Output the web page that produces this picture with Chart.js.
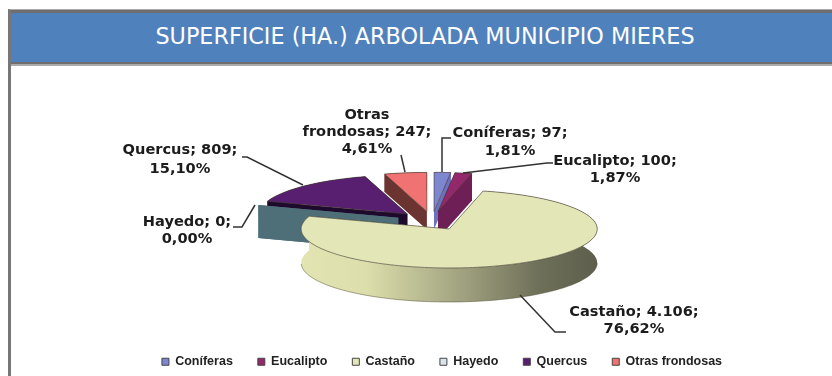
<!DOCTYPE html>
<html>
<head>
<meta charset="utf-8">
<title>Superficie arbolada Mieres</title>
<script src="https://cdn.jsdelivr.net/npm/chart.js@4/dist/chart.umd.min.js"></script>
<style>
    html, body { margin: 0; padding: 0; background: #fff; overflow: hidden; }
    #panel { position: absolute; left: 8px; top: 9px; width: 824px; height: 367px; box-sizing: border-box;
             border-left: 3px solid #777; border-top: 1px solid #aaa; }
    #header { height: 54px; box-sizing: border-box; background: #4f81bd; border-top: 3px solid #6e6e6e;
              border-bottom: 2px solid #6e6e6e; box-shadow: 0 2px 0 #aaa;
              color: #fff; font: 22.3px "DejaVu Sans", sans-serif; line-height: 47px; text-align: center; padding-left: 7px; }
    #wrap { position: absolute; left: 0; top: 0; width: 832px; height: 376px; filter: blur(0.35px); }
</style>
</head>
<body>
<div id="panel"><div id="header">SUPERFICIE (HA.) ARBOLADA MUNICIPIO MIERES</div></div>
<div id="wrap"><canvas id="pieChart" width="832" height="376"></canvas></div>
<script>
const categories = ['Coníferas', 'Eucalipto', 'Castaño', 'Hayedo', 'Quercus', 'Otras frondosas'];
const hectares = [97, 100, 4106, 0, 809, 247];

const topColors = ['#7f86d0', '#93286b', '#e3e7b7', '#d8e4ea', '#581f70', '#f07272'];
const wallColors = ['#6b72c0', '#6e1f55', '#d8d9a8', '#4e6e78', '#1e0a2c', '#6b3430'];
const wallDepths = [18, 27, 34, 33, 18, 18];
const paintOrder = [5, 0, 1, 4, 3, 2];

// donde va cada etiqueta y su linea guia
const labelPlaces = [
    { x: 510, y: 133, gap: 18, leader: [[442, 172], [442, 138], [451, 138]] },
    { x: 615, y: 161, gap: 17, leader: [[463, 173], [547, 163], [553, 163]] },
    { x: 634, y: 312, gap: 17, leader: [[520, 295], [555, 332], [566, 332]] },
    { x: 187, y: 222, gap: 17, leader: [[255, 205], [242, 227], [233, 227]] },
    { x: 180, y: 150, gap: 19, leader: [[303, 185], [247, 157], [242, 157]] },
    { x: 367, y: 132, gap: 17, leader: [[405, 172], [401, 155]] }
];

const PIE_WIDTH = 148;
const PIE_HEIGHT = 39;
const PIE_SHIFT_X = -10;

function esNumber(n, decimals) {
    return n.toLocaleString('es-ES', { minimumFractionDigits: decimals, maximumFractionDigits: decimals, useGrouping: 'always' });
}

function labelLines(i, total) {
    const words = categories[i].split(' ');
    const percent = esNumber(hectares[i] / total * 100, 2) + '%';
    const value = esNumber(hectares[i], 0);
    if (words.length > 1) {
        return [words[0], words.slice(1).join(' ') + '; ' + value + ';', percent];
    }
    return [words[0] + '; ' + value + ';', percent];
}

// pasa un punto del circulo plano a la vista inclinada
function project(arc, angle, radius, offset, dy) {
    const midAngle = (arc.startAngle + arc.endAngle) / 2;
    const u = (Math.cos(midAngle) * offset + Math.cos(angle) * radius) / arc.outerRadius;
    const v = (Math.sin(midAngle) * offset + Math.sin(angle) * radius) / arc.outerRadius;
    return [arc.x + PIE_SHIFT_X + u * PIE_WIDTH, arc.y + v * PIE_HEIGHT + dy];
}

function tracePath(ctx, points) {
    ctx.beginPath();
    points.forEach(function(p, i) {
        if (i === 0) ctx.moveTo(p[0], p[1]); else ctx.lineTo(p[0], p[1]);
    });
}

function fillPath(ctx, points, fill, stroke) {
    tracePath(ctx, points);
    ctx.closePath();
    ctx.fillStyle = fill;
    ctx.fill();
    if (stroke) {
        ctx.strokeStyle = stroke;
        ctx.lineWidth = 0.9;
        ctx.stroke();
    }
}

function drawSlice(ctx, arc, i) {
    const offset = arc.options.offset;
    const depth = wallDepths[i];
    const R = arc.outerRadius;
    const rimTop = [];
    const rimBottom = [];
    const frontRim = [];
    const steps = Math.max(1, Math.ceil((arc.endAngle - arc.startAngle) / 0.03));
    for (let s = 0; s <= steps; s++) {
        const a = arc.startAngle + (arc.endAngle - arc.startAngle) * s / steps;
        rimTop.push(project(arc, a, R, offset, 0));
        rimBottom.push(project(arc, a, R, offset, depth));
        if (Math.sin(a) > 0) frontRim.push(rimBottom[s]);
    }
    const apex = project(arc, 0, 0, offset, 0);
    const apexLow = project(arc, 0, 0, offset, depth);

    // paredes de los cortes
    fillPath(ctx, [apex, rimTop[0], rimBottom[0], apexLow], wallColors[i]);
    fillPath(ctx, [apex, rimTop[steps], rimBottom[steps], apexLow], wallColors[i]);

    // pared exterior
    if (steps > 1) {
        let wallFill = wallColors[i];
        if (i === 2) {
            const left = Math.min(...rimTop.map(p => p[0]));
            const right = Math.max(...rimTop.map(p => p[0]));
            wallFill = ctx.createLinearGradient(left, 0, right, 0);
            wallFill.addColorStop(0, '#e2e4b2');
            wallFill.addColorStop(0.22, '#dcdeab');
            wallFill.addColorStop(0.5, '#a8aa86');
            wallFill.addColorStop(0.8, '#6f7059');
            wallFill.addColorStop(1, '#5d5e4c');
        }
        fillPath(ctx, rimTop.concat(rimBottom.slice().reverse()), wallFill);
        if (i === 2) {
            tracePath(ctx, frontRim);
            ctx.strokeStyle = 'rgba(90,85,60,0.6)';
            ctx.lineWidth = 0.9;
            ctx.stroke();
        }
    }

    // cara superior
    if (hectares[i] > 0) {
        fillPath(ctx, [apex].concat(rimTop), arc.options.backgroundColor, 'rgba(70,60,50,0.7)');
    }
}

const pie3d = {
    id: 'pie3d',
    beforeDatasetsDraw: function(chart) {
        const ctx = chart.ctx;
        const arcs = chart.getDatasetMeta(0).data;
        ctx.save();
        paintOrder.forEach(function(i) {
            drawSlice(ctx, arcs[i], i);
        });
        ctx.restore();
        return false;
    },
    afterDraw: function(chart) {
        const ctx = chart.ctx;
        const total = hectares.reduce((a, b) => a + b, 0);
        ctx.save();
        labelPlaces.forEach(function(place, i) {
            tracePath(ctx, place.leader);
            ctx.strokeStyle = '#333';
            ctx.lineWidth = 1.5;
            ctx.stroke();

            ctx.fillStyle = '#1c1c1c';
            ctx.font = 'bold 14.6px "DejaVu Sans", sans-serif';
            ctx.textAlign = 'center';
            ctx.textBaseline = 'middle';
            const lines = labelLines(i, total);
            const first = lines.length > 2 ? place.y - place.gap : place.y;
            lines.forEach(function(line, n) {
                ctx.fillText(line, place.x, first + n * place.gap);
            });
        });
        ctx.restore();
    }
};

new Chart(document.getElementById('pieChart'), {
    type: 'pie',
    data: {
        labels: categories,
        datasets: [{
            data: hectares,
            backgroundColor: topColors,
            borderColor: '#444',
            borderWidth: 1,
            offset: 23.5
        }]
    },
    options: {
        responsive: false,
        animation: false,
        layout: { padding: { left: 52, right: 0, top: 111, bottom: -2 } },
        plugins: {
            legend: {
                position: 'bottom',
                labels: {
                    boxWidth: 7,
                    boxHeight: 7,
                    padding: 25,
                    color: '#222',
                    font: { family: '"Liberation Sans", sans-serif', size: 12.5, weight: 'bold' }
                }
            },
            tooltip: { enabled: false }
        }
    },
    plugins: [pie3d]
});
</script>
</body>
</html>
